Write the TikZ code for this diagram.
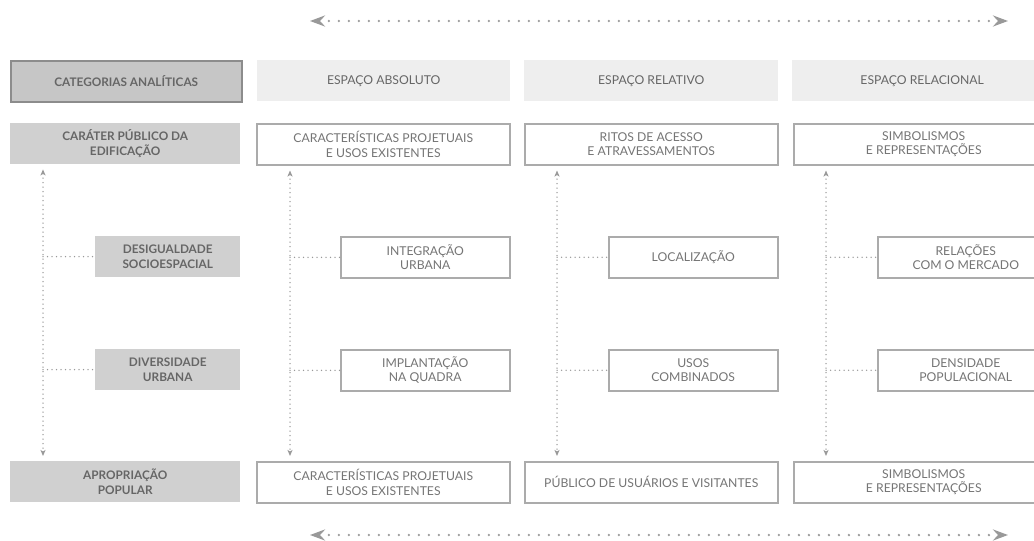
\documentclass[tikz,border=0pt]{standalone}
\usepackage{fontspec}
\setmainfont{Lato}
\usetikzlibrary{arrows.meta,positioning}
\definecolor{boxgray}{HTML}{D0D0D0}
\definecolor{headgray}{HTML}{EEEEEE}
\definecolor{linegray}{HTML}{ABABAB}
\definecolor{textgray}{HTML}{666666}
\definecolor{dotgray}{HTML}{999999}
\tikzset{
  cell/.style={anchor=north west,minimum height=41,inner sep=0pt,align=center,
    text=textgray,font=\fontsize{12.2}{14.5}\selectfont},
  catbox/.style={cell,fill=boxgray,font=\fontsize{11.8}{14.5}\selectfont\bfseries},
  headbox/.style={cell,fill=headgray},
  itembox/.style={cell,fill=white,draw=linegray,line width=1.5pt,text=textgray!90},
  bigarrow/.style={dotgray,line width=2.6pt,line cap=round,dash pattern=on 0pt off 10pt,
    {Stealth[length=15pt,width=11pt,inset=5pt]}-{Stealth[length=15pt,width=11pt,inset=5pt]}},
  vline/.style={dotgray,line width=1.5pt,line cap=round,dash pattern=on 0pt off 4.5pt,
    shorten <=5pt,shorten >=5pt,
    {Stealth[length=6pt,width=5pt,inset=1.5pt]}-{Stealth[length=6pt,width=5pt,inset=1.5pt]}},
  hline/.style={dotgray,line width=1.5pt,line cap=round,dash pattern=on 0pt off 4.5pt}
}
\begin{document}
\begin{tikzpicture}[x=1pt,y=-1pt]
\clip (0,0) rectangle (1034,541);
\fill[white] (0,0) rectangle (1034,541);
% header row
\node (h0) [catbox,draw=black!45,line width=1.5pt,minimum width=231,fill=boxgray!95!black] at (10,60) {CATEGORIAS ANALÍTICAS};
\node (h1) [headbox,minimum width=253] at (257,60) {ESPAÇO ABSOLUTO};
\node (h2) [headbox,minimum width=254] at (524,60) {ESPAÇO RELATIVO};
\node (h3) [headbox,minimum width=260] at (792,60) {ESPAÇO RELACIONAL};
%
\node (a0) [catbox,minimum width=230] at (10,123) {CARÁTER PÚBLICO DA\\EDIFICAÇÃO};
\node (a1) [itembox,minimum width=253] at (256,123) {CARACTERÍSTICAS PROJETUAIS\\E USOS EXISTENTES};
\node (a2) [itembox,minimum width=253] at (524,123) {RITOS DE ACESSO\\E ATRAVESSAMENTOS};
\node (a3) [itembox,minimum width=260] at (793,123) {SIMBOLISMOS\\E REPRESENTAÇÕES};
%
\node (b0) [catbox,minimum width=145] at (95,236) {DESIGUALDADE\\SOCIOESPACIAL};
\node (b1) [itembox,minimum width=169] at (340,236) {INTEGRAÇÃO\\URBANA};
\node (b2) [itembox,minimum width=169] at (608,236) {LOCALIZAÇÃO};
\node (b3) [itembox,minimum width=176] at (877,236) {RELAÇÕES\\COM O MERCADO};
%
\node (c0) [catbox,minimum width=145] at (95,349) {DIVERSIDADE\\URBANA};
\node (c1) [itembox,minimum width=169] at (340,349) {IMPLANTAÇÃO\\NA QUADRA};
\node (c2) [itembox,minimum width=169] at (608,349) {USOS\\COMBINADOS};
\node (c3) [itembox,minimum width=176] at (877,349) {DENSIDADE\\POPULACIONAL};
%
\node (d0) [catbox,minimum width=230] at (10,461) {APROPRIAÇÃO\\POPULAR};
\node (d1) [itembox,minimum width=253] at (256,461) {CARACTERÍSTICAS PROJETUAIS\\E USOS EXISTENTES};
\node (d2) [itembox,minimum width=253] at (524,461) {PÚBLICO DE USUÁRIOS E VISITANTES};
\node (d3) [itembox,minimum width=260] at (793,461) {SIMBOLISMOS\\E REPRESENTAÇÕES};
% vertical links
\coordinate (v0) at (43,0);
\coordinate (v1) at (290,0);
\coordinate (v2) at (557,0);
\coordinate (v3) at (826,0);
\foreach \i in {0,1,2,3}{
  \draw[vline] (a\i.south -| v\i) -- (d\i.north -| v\i);
  \draw[hline] (b\i.west -| v\i) -- (b\i.west);
  \draw[hline] (c\i.west -| v\i) -- (c\i.west);
}
% scale arrows
\coordinate (t1) at (310,21);
\coordinate (t2) at (1008,21);
\coordinate (u1) at (310,535);
\coordinate (u2) at (1008,535);
\draw[bigarrow] (t1) -- (t2);
\draw[bigarrow] (u1) -- (u2);
\end{tikzpicture}
\end{document}
